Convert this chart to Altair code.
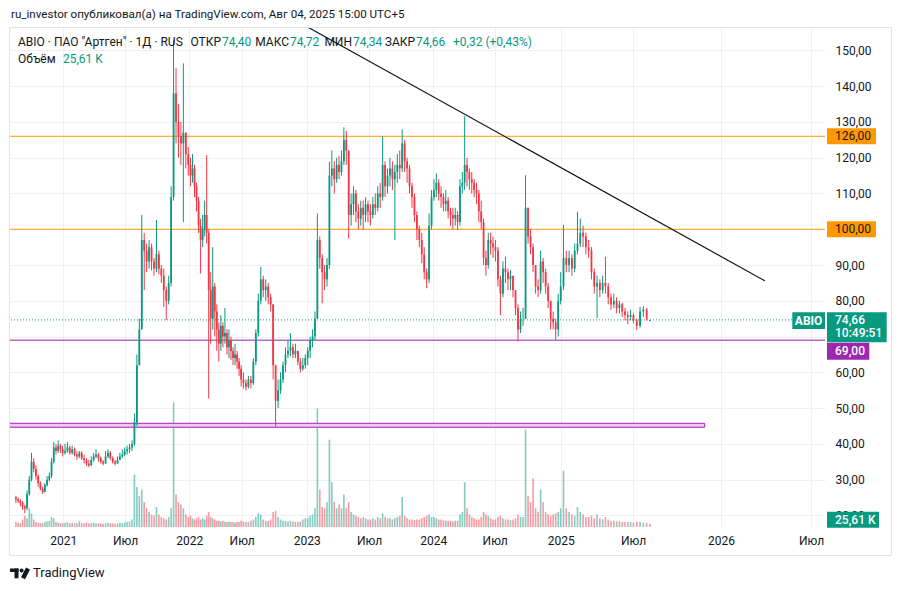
import altair as alt
import pandas as pd

# ---------------- data (weekly candles, Wednesdays) ----------------
WEEK_START = "2020-08-05"
FIRST_OPEN = 25.0
LAST_OPEN = 74.40

close_ = [
    # H2 2020
    24.5, 24, 23.5, 22.5, 22, 26, 30, 35, 33, 31, 29, 27.5, 26.5, 28.5, 30, 31, 35, 39, 38, 39.5, 38.5, 37.5,
    # H1 2021
    38, 39, 37.5, 38.5, 37, 36.5, 37.5, 36, 35.5, 34.5, 34, 35.5, 36.5, 37, 36, 35, 34.5, 36.5, 37.5, 36, 35, 34.5, 35.5, 36.5, 37, 38,
    # H2 2021
    38.5, 39, 40, 46, 62, 72, 97, 94, 91, 95, 91, 89, 93, 89, 87, 83, 80, 85, 109, 138, 130, 126, 124, 127, 121, 118,
    # H1 2022
    115, 117, 112, 108, 101, 97, 100, 104, 99, 83, 75, 84, 77, 72, 68, 73, 70, 71, 67, 69, 66, 64, 65, 63, 61, 58,
    # H2 2022
    57, 56, 58, 57, 63, 71, 80, 86, 83, 84, 81, 79, 62, 52, 55, 58, 62, 65, 66, 67, 65, 66, 63, 61, 62, 64,
    # H1 2023
    66, 69, 70, 75, 97, 92, 88, 86, 90, 115, 117, 114, 118, 116, 119, 125, 122, 104, 107, 110, 105, 103, 106, 104, 107, 105,
    # H2 2023
    104, 107, 106, 110, 109, 118, 112, 115, 117, 114, 116, 118, 117, 124, 119, 117, 112, 109, 104, 100, 97, 93, 88, 86, 101, 109,
    # H1 2024
    111, 113, 110, 109, 107, 108, 105, 104, 103, 104, 102, 112, 113, 118, 116, 114, 113, 111, 110, 105, 102, 92, 90, 97, 96, 95,
    # H2 2024
    94, 86, 82, 89, 88, 86, 87, 83, 78, 72, 75, 75, 106, 98, 95, 90, 84, 83, 91, 88, 84, 80, 75, 74, 72, 80, 84,
    # H1 2025
    92, 90, 92, 89, 94, 96, 99, 98, 95, 94, 88, 84, 85, 83, 85, 84, 81, 79, 80, 78, 79, 77, 76, 75.5, 76, 74.5,
    # Jul 2025
    73, 77, 77.5, 75, 74.66,
]
high_ = [
    25.5, 25, 24.5, 24, 23, 27, 31, 37.5, 36, 34, 31.5, 29.5, 28, 29, 31, 32, 36, 40.5, 40, 41, 40, 39.5,
    40, 40.5, 39.5, 39.5, 39, 38, 38, 38, 37, 36, 35.5, 36.5, 37.5, 38.5, 37.5, 36.5, 35.5, 38, 38.5, 38, 36.5, 35.5, 36.5, 37.5, 38.5, 39,
    39.5, 40, 41, 48.5, 65, 75, 104, 99, 96, 97, 96, 92, 102.6, 94, 90, 89, 84, 87, 112, 153, 145, 135, 130, 146.4, 126, 123,
    120, 121, 118, 113, 109, 103, 104, 108, 120.7, 100, 88, 95, 85, 79, 74, 76, 74, 78, 72, 72, 70, 67, 68, 66, 64, 62,
    60, 58, 59, 59, 64, 72, 82, 89.5, 87, 86, 85, 82, 79, 62, 58, 60, 63, 67, 69, 71, 68, 68, 66, 64, 64, 65,
    67, 70, 72, 77, 104.4, 98, 93, 90, 92, 118.9, 122, 119, 120, 120.5, 122, 128.5, 127.5, 122, 110, 112, 111, 107, 108, 108, 109, 108,
    107, 109, 110, 112, 113, 125.9, 119, 117, 120, 119, 118, 121, 122, 127.9, 125, 120, 118, 113, 110, 105, 101, 99, 95, 89, 104.4, 111,
    114, 115.6, 114, 112, 110, 111, 109, 106, 106, 106, 105, 114, 116, 131.6, 120, 117, 116, 114, 113, 111, 108, 103, 94, 99, 99, 98,
    97, 95, 87, 91, 92.3, 89, 88.6, 87, 83, 79, 77, 78, 115.1, 106, 100, 96, 90, 86, 94, 92, 89, 85, 80, 77, 75, 82, 88,
    101.2, 94, 94, 93, 96, 104.9, 103, 101, 99, 97, 95, 89, 87, 86, 87, 92.3, 85, 82, 82, 81, 80, 79.5, 78, 77, 77.5, 76.5,
    75, 78.3, 78.5, 78, 74.72,
]
low_ = [
    23.5, 23.5, 22.5, 21.5, 20.6, 21.5, 25.5, 29.5, 32, 30, 28, 27, 26, 26.5, 28, 29.5, 30.5, 34.5, 37, 37.5, 37.5, 36.5,
    37, 37.5, 37, 37, 36.5, 35.5, 36, 35.5, 34.5, 33.8, 33.5, 33.8, 35, 36, 35, 34.5, 34, 34.5, 36, 35.5, 34.5, 34, 34.5, 35.5, 36, 36.5,
    37, 37.5, 38, 39.5, 45, 62, 72, 83, 88, 89, 88.5, 87, 88, 87.5, 85, 78.3, 74.6, 79, 84, 108, 124, 120, 118, 102, 117, 115,
    112, 113, 109, 105, 99, 87.6, 95, 98, 96, 52.7, 68, 72, 70, 66, 63, 66, 67, 68, 65, 64, 63.5, 62, 62, 61, 59, 56,
    55.5, 55, 55.5, 55.5, 56.5, 62, 70, 79, 81, 80, 79, 77, 58, 44.8, 50, 54, 57, 60, 64, 64.5, 64, 64, 62, 60, 60.5, 61,
    62, 64, 67, 69, 75, 89, 79.3, 83, 84, 89, 112, 110, 113, 114, 115, 118, 118, 97.4, 101, 104, 102, 100, 101, 99.8, 102, 102,
    101, 103, 104, 105, 106, 108, 109, 110, 112, 111, 97, 113, 114, 116, 116, 113, 110, 106, 102, 97, 95, 90.5, 86, 83.5, 85, 100,
    108, 109, 108, 106, 105, 105, 103, 101, 100, 101, 99.8, 101, 110, 111, 112, 111, 110, 109, 107, 102, 100, 90, 87, 89, 93, 92,
    91, 84, 76, 81, 85, 83, 83, 81, 76, 68.6, 71, 73, 75, 96, 93, 88, 82, 81, 82, 85, 82, 78, 72, 72, 69, 70, 79,
    83, 88, 88, 87, 88, 93, 95, 95, 93, 92, 86, 82, 75.1, 81, 82, 82, 79, 77.5, 78, 76.5, 76.5, 75.5, 74.5, 73.5, 74.5, 73.7,
    71.8, 72.5, 75.5, 74.5, 74.34,
]
volume_k = [
    40, 35, 30, 60, 90, 70, 150, 110, 60, 40, 35, 30, 30, 40, 45, 50, 80, 70, 40, 35, 30, 30,
    35, 40, 30, 35, 30, 30, 45, 30, 30, 35, 30, 30, 35, 30, 30, 30, 25, 30, 35, 30, 30, 25, 30, 35, 30, 35,
    40, 45, 60, 420, 320, 250, 300, 200, 150, 120, 100, 90, 160, 100, 80, 70, 60, 80, 150, 1000, 260, 200, 180, 150, 100, 80,
    90, 70, 60, 70, 80, 60, 70, 60, 90, 120, 80, 70, 60, 50, 50, 45, 50, 45, 40, 45, 40, 40, 35, 40, 40, 50,
    45, 40, 40, 50, 60, 80, 110, 100, 60, 50, 50, 60, 120, 130, 80, 60, 50, 50, 45, 50, 45, 40, 40, 45, 60, 70,
    70, 90, 100, 150, 950, 300, 160, 150, 200, 700, 360, 200, 150, 180, 150, 260, 150, 200, 120, 100, 90, 80, 70, 80, 70, 60,
    60, 70, 60, 80, 70, 110, 80, 70, 70, 60, 70, 80, 90, 240, 90, 70, 60, 60, 55, 60, 60, 70, 80, 90, 100, 80,
    80, 70, 60, 60, 55, 50, 50, 50, 45, 50, 50, 100, 120, 360, 150, 100, 80, 70, 60, 60, 80, 120, 100, 90, 70, 60,
    60, 80, 90, 70, 60, 60, 55, 60, 70, 100, 80, 80, 780, 250, 200, 390, 150, 120, 300, 200, 120, 100, 90, 100, 110, 120, 150,
    450, 150, 120, 100, 90, 160, 120, 100, 80, 80, 90, 70, 100, 70, 60, 80, 60, 50, 50, 45, 45, 40, 40, 40, 40, 35,
    45, 40, 35, 35, 25.61,
]

levels_orange = [126.0, 100.0]
level_purple = 69.0
last_price = 74.66
box_low, box_high = 44.65, 45.76
box_dates = ["2020-06-01", "2025-11-28"]
trend_dates = ["2022-07-24", "2026-03-30"]
trend_prices = [165.5, 85.6]

price_ticks = list(range(20, 151, 10))
hidden_tick = 70   # covered by the price labels in the reference
time_ticks = ["2021-01-01", "2021-07-01", "2022-01-01", "2022-07-01", "2023-01-01", "2023-07-01",
              "2024-01-01", "2024-07-01", "2025-01-01", "2025-07-01", "2026-01-01", "2026-07-01"]

# ---------------- layout / style ----------------
W, H = 815, 499
FONT = "Roboto"
TXT = "#131722"
UP = "#089981"
DOWN = "#f23645"
ORANGE = "#ff9800"
PURPLE = "#9c27b0"
GRID = "#eef0f4"
FRAME = "#e0e3eb"

# TradingView-like time axis: bar-based in the past, calendar-based in the future
x_break_dates = ["2020-07-31", "2021-01-01", "2021-07-01", "2022-01-01", "2022-07-01", "2023-01-01",
                 "2023-07-01", "2024-01-01", "2024-07-01", "2025-01-01", "2025-07-01", "2025-08-04",
                 "2026-01-01", "2026-07-01", "2026-07-29"]
x_break_px = [0, 53.3, 115, 179.3, 231.7, 296.7, 359, 423.3, 484.7, 550.7, 623, 639, 711, 801, 815]
y_domain = [16.76, 156.27]


def ms(d):
    return int(pd.Timestamp(d, tz="UTC").value // 10**6)


n = min(len(close_), len(high_), len(low_), len(volume_k))
dates = pd.date_range(WEEK_START, periods=n, freq="7D").strftime("%Y-%m-%d").tolist()
open_ = [FIRST_OPEN] + close_[: n - 1]
open_[-1] = LAST_OPEN
df = pd.DataFrame({
    "t": [ms(d) for d in dates],
    "open": open_,
    "close": close_[:n],
    "high": [max(h, o, c) for h, o, c in zip(high_[:n], open_, close_[:n])],
    "low": [min(l, o, c) for l, o, c in zip(low_[:n], open_, close_[:n])],
    "vol": volume_k[:n],
})
df["dir"] = ["up" if c >= o else "down" for o, c in zip(df["open"], df["close"])]

x_scale = alt.Scale(type="linear", domain=[ms(d) for d in x_break_dates], range=x_break_px,
                    nice=False, zero=False)
x_axis = alt.Axis(values=[ms(d) for d in time_ticks],
                  labelExpr="utcFormat(datum.value, '%m') == '01' ? utcFormat(datum.value, '%Y') : 'Июл'",
                  grid=True, gridColor=GRID, domain=False, ticks=False, labelPadding=8,
                  labelFont=FONT, labelFontSize=12, labelColor=TXT, title=None,
                  labelFlush=False, labelOverlap=False, zindex=0)
y_scale = alt.Scale(domain=y_domain, nice=False, zero=False)
y_axis = alt.Axis(orient="right", values=price_ticks,
                  labelExpr=f"datum.value == {hidden_tick} ? '' : replace(format(datum.value, '.2f'), '.', ',')",
                  grid=True, gridColor=GRID, domain=False, ticks=False, labelPadding=10,
                  labelFont=FONT, labelFontSize=12, labelColor=TXT, title=None, zindex=0)
color = alt.Color("dir:N", scale=alt.Scale(domain=["up", "down"], range=[UP, DOWN]), legend=None)


def X(field):
    return alt.X(field, scale=x_scale, axis=x_axis)


def Y(field):
    return alt.Y(field, scale=y_scale, axis=y_axis)


DUMMY = pd.DataFrame({"d": [0]})

# volume
volume = alt.Chart(df).mark_bar(size=1.6, opacity=0.5).encode(
    x=X("t:Q"),
    y=alt.Y("vol:Q", scale=alt.Scale(domain=[0, 4000], nice=False, zero=True), axis=None),
    color=color,
)

# pink zone
box_df = pd.DataFrame({"t0": [ms(box_dates[0])], "t1": [ms(box_dates[1])], "lo": [box_low], "hi": [box_high]})
pink = alt.Chart(box_df).mark_rect(fill="#f5c6f6", stroke=PURPLE, strokeWidth=1, clip=True).encode(
    x=X("t0:Q"), x2="t1:Q", y=Y("lo:Q"), y2="hi:Q")

# candles
wicks = alt.Chart(df).mark_rule(strokeWidth=1).encode(x=X("t:Q"), y=Y("low:Q"), y2="high:Q", color=color)
bodies = alt.Chart(df).mark_bar(size=1.8).encode(x=X("t:Q"), y=Y("open:Q"), y2="close:Q", color=color)

# horizontal levels
lev_df = pd.DataFrame({"p": levels_orange})
orange_lines = alt.Chart(lev_df).mark_rule(color=ORANGE, strokeWidth=1).encode(y=Y("p:Q"))
purple_line = alt.Chart(pd.DataFrame({"p": [level_purple]})).mark_rule(color="#8e24aa", strokeWidth=1).encode(y=Y("p:Q"))
last_line = alt.Chart(pd.DataFrame({"p": [last_price]})).mark_rule(
    color=UP, strokeWidth=1, strokeDash=[1, 2]).encode(y=Y("p:Q"))

# trend line
trend_df = pd.DataFrame({"t": [ms(d) for d in trend_dates], "p": trend_prices})
trend = alt.Chart(trend_df).mark_line(color=TXT, strokeWidth=1.2, clip=True).encode(x=X("t:Q"), y=Y("p:Q"))


def price_box(p, bg, x1, x2, top, bottom):
    return alt.Chart(pd.DataFrame({"p": [p]})).mark_rect(
        color=bg, yOffset=top, y2Offset=bottom).encode(
        x=alt.value(x1), x2=alt.value(x2), y=Y("p:Q"), y2="p:Q")


def price_text(p, t, fg, x, dy=0, weight="normal", align="left"):
    return alt.Chart(pd.DataFrame({"p": [p]})).mark_text(
        text=t, color=fg, font=FONT, fontSize=12, fontWeight=weight, align=align,
        baseline="middle", dy=dy).encode(x=alt.value(x), y=Y("p:Q"))


def txt(t, x, y, fg, size=12, weight="normal", align="left"):
    return alt.Chart(DUMMY).mark_text(
        text=t, color=fg, font=FONT, fontSize=size, fontWeight=weight, align=align,
        baseline="middle").encode(x=alt.value(x), y=alt.value(y))


labels = [
    price_box(126, ORANGE, 817, 866, -8, 8), price_text(126, "126,00", TXT, 825),
    price_box(100, ORANGE, 817, 866, -8, 8), price_text(100, "100,00", TXT, 825),
    price_box(last_price, UP, 782.3, 815, -7.6, 9.1),
    price_text(last_price, "ABIO", "white", 798.6, dy=0.7, weight="bold", align="center"),
    price_box(last_price, UP, 817, 876.7, -7.6, 22.4),
    price_text(last_price, "74,66", "white", 825, weight=500),
    price_text(last_price, "10:49:51", "white", 825, dy=13.4, weight=500),
    price_box(level_purple, PURPLE, 817, 859.3, 2.5, 19.5),
    price_text(level_purple, "69,00", "white", 825, dy=11, weight=500),
]

vol_label = [
    alt.Chart(DUMMY).mark_rect(color=UP).encode(
        x=alt.value(817), x2=alt.value(869), y=alt.value(483.7), y2=alt.value(499.7)),
    txt("25,61 K", 825, 491.7, "white", weight=500),
]

header = [
    txt("ru_investor опубликовал(а) на TradingView.com, Авг 04, 2025 15:00 UTC+5", 1, -13, TXT, size=11.6),
    txt('ABIO · ПАО "Артген" · 1Д · RUS', 8, 14, TXT),
    txt("ОТКР", 211, 14, TXT, align="right"), txt("74,40", 212, 14, UP),
    txt("МАКС", 279, 14, TXT, align="right"), txt("74,72", 280, 14, UP),
    txt("МИН", 342, 14, TXT, align="right"), txt("74,34", 343, 14, UP),
    txt("ЗАКР", 405, 14, TXT, align="right"), txt("74,66", 406, 14, UP),
    txt("+0,32 (+0,43%)", 443, 14, UP),
    txt("Объём", 8, 31, TXT), txt("25,61 K", 53, 31, UP),
]

frame = alt.Chart(DUMMY).mark_rect(fillOpacity=0, stroke=FRAME, strokeWidth=1).encode(
    x=alt.value(-0.5), x2=alt.value(881.5), y=alt.value(-0.5), y2=alt.value(527.5))

logo = [
    alt.Chart(DUMMY).mark_rect(color=TXT).encode(
        x=alt.value(0), x2=alt.value(8.5), y=alt.value(540.5), y2=alt.value(544)),
    alt.Chart(DUMMY).mark_rect(color=TXT).encode(
        x=alt.value(4.5), x2=alt.value(8.5), y=alt.value(540.5), y2=alt.value(550.3)),
    alt.Chart(DUMMY).mark_point(filled=True, color=TXT, size=16, opacity=1).encode(
        x=alt.value(11.6), y=alt.value(542.6)),
    alt.Chart(DUMMY).mark_rule(color=TXT, strokeWidth=4.5).encode(
        x=alt.value(18), x2=alt.value(13), y=alt.value(540.5), y2=alt.value(550.3)),
    txt("TradingView", 23, 545, TXT, size=13),
]

price_layer = alt.layer(
    pink, orange_lines, purple_line, last_line, wicks, bodies, trend,
    *labels, *vol_label, *header, frame, *logo,
)

chart = alt.layer(volume, price_layer).resolve_scale(y="independent").properties(
    width=W, height=H,
    padding={"left": 10, "top": 28, "right": 77, "bottom": 64},
    autosize=alt.AutoSizeParams(type="none"),
    background="white",
).configure_view(strokeWidth=0)

chart.save("out.html", embed_options={"renderer": "svg", "actions": False})
